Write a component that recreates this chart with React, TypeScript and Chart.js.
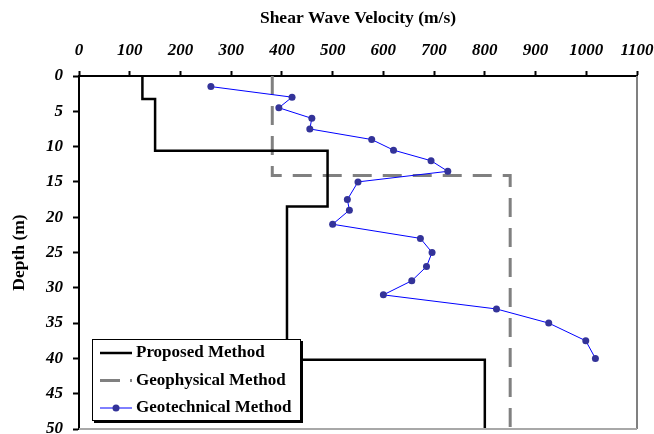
import React, { useEffect, useRef } from "react";
import { Chart, registerables } from "chart.js";

Chart.register(...registerables);

const FONT = "'Liberation Serif', 'Times New Roman', serif";

// Axis settings
const velocityMin = 0;
const velocityMax = 1100;
const velocityStep = 100;
const depthMin = 0;
const depthMax = 50;
const depthStep = 5;

const seriesNames = ["Proposed Method", "Geophysical Method", "Geotechnical Method"];

// Proposed Method (step profile)
const proposedVelocity = [125, 125, 150, 150, 490, 490, 410, 410, 800, 800];
const proposedDepth = [0, 3.25, 3.25, 10.6, 10.6, 18.5, 18.5, 40.2, 40.2, 50];

// Geophysical Method (step profile)
const geophysicalVelocity = [381, 381, 850, 850];
const geophysicalDepth = [0, 14.1, 14.1, 50];

// Geotechnical Method (points)
const geotechnicalVelocity = [
  260, 420, 394, 459, 455, 577, 620, 694, 727, 550, 529, 533, 500, 673, 696, 685, 656, 600, 823, 926, 999, 1018,
];
const geotechnicalDepth = [
  1.5, 3, 4.5, 6, 7.5, 9, 10.5, 12, 13.5, 15, 17.5, 19, 21, 23, 25, 27, 29, 31, 33, 35, 37.5, 40,
];

const toPoints = (xs: number[], ys: number[]) => xs.map((x, i) => ({ x, y: ys[i] }));

const frameAndLegend = {
  id: "frameAndLegend",
  afterDraw(chart: any) {
    const { ctx, chartArea } = chart;
    const { left, right, top, bottom } = chartArea;
    ctx.save();
    // right and bottom frame
    ctx.strokeStyle = "#808080";
    ctx.lineWidth = 2;
    ctx.beginPath();
    ctx.moveTo(right, top);
    ctx.lineTo(right, bottom);
    ctx.stroke();
    ctx.strokeStyle = "#a8a8a8";
    ctx.beginPath();
    ctx.moveTo(left, bottom);
    ctx.lineTo(right, bottom);
    ctx.stroke();

    // legend box
    const bx = 92, by = 339, bw = 209, bh = 82;
    ctx.fillStyle = "#000";
    ctx.fillRect(bx + 2, by + 2, bw, bh);
    ctx.fillStyle = "#fff";
    ctx.fillRect(bx, by, bw, bh);
    ctx.strokeStyle = "#000";
    ctx.lineWidth = 1;
    ctx.strokeRect(bx + 0.5, by + 0.5, bw - 1, bh - 1);

    const rows = [353, 380.5, 408];
    const sx0 = 100, sx1 = 132;
    // proposed sample
    ctx.strokeStyle = "#000";
    ctx.lineWidth = 2.5;
    ctx.beginPath();
    ctx.moveTo(sx0, rows[0]);
    ctx.lineTo(sx1, rows[0]);
    ctx.stroke();
    // geophysical sample
    ctx.strokeStyle = "#808080";
    ctx.lineWidth = 3;
    ctx.setLineDash([20, 10]);
    ctx.beginPath();
    ctx.moveTo(sx0, rows[1]);
    ctx.lineTo(sx1, rows[1]);
    ctx.stroke();
    ctx.setLineDash([]);
    // geotechnical sample
    ctx.strokeStyle = "#0000ff";
    ctx.lineWidth = 1;
    ctx.beginPath();
    ctx.moveTo(sx0, rows[2]);
    ctx.lineTo(sx1, rows[2]);
    ctx.stroke();
    ctx.fillStyle = "#333399";
    ctx.beginPath();
    ctx.arc((sx0 + sx1) / 2, rows[2], 3.5, 0, Math.PI * 2);
    ctx.fill();

    ctx.fillStyle = "#000";
    ctx.font = `bold 17px ${FONT}`;
    ctx.textAlign = "left";
    ctx.textBaseline = "middle";
    seriesNames.forEach((name, i) => {
      ctx.fillText(name, 136, rows[i]);
    });
    ctx.restore();
  },
};

export default function App() {
  const canvasRef = useRef<HTMLCanvasElement | null>(null);

  useEffect(() => {
    if (!canvasRef.current) return;
    Chart.defaults.font.family = FONT;
    const tickFont = { family: FONT, size: 17, weight: "bold" as const, style: "italic" as const };
    const titleFont = { family: FONT, size: 17.5, weight: "bold" as const };

    const chart = new Chart(canvasRef.current, {
      type: "scatter",
      data: {
        datasets: [
          {
            label: seriesNames[0],
            data: toPoints(proposedVelocity, proposedDepth),
            showLine: true,
            borderColor: "#000000",
            borderWidth: 2.5,
            pointRadius: 0,
            fill: false,
            order: 1,
          },
          {
            label: seriesNames[1],
            data: toPoints(geophysicalVelocity, geophysicalDepth),
            showLine: true,
            borderColor: "#808080",
            borderWidth: 3,
            borderDash: [19, 11],
            pointRadius: 0,
            fill: false,
            order: 2,
          },
          {
            label: seriesNames[2],
            data: toPoints(geotechnicalVelocity, geotechnicalDepth),
            showLine: true,
            borderColor: "#0000ff",
            borderWidth: 1,
            pointRadius: 3.5,
            pointBackgroundColor: "#333399",
            pointBorderColor: "#333399",
            pointBorderWidth: 0,
            fill: false,
            order: 0,
          },
        ],
      },
      options: {
        animation: false,
        responsive: false,
        layout: { padding: { top: 0, left: 0, right: 17, bottom: 5 } },
        plugins: {
          legend: { display: false },
          tooltip: { enabled: false },
        },
        scales: {
          x: {
            type: "linear",
            position: "top",
            min: velocityMin,
            max: velocityMax,
            ticks: {
              stepSize: velocityStep,
              font: tickFont,
              color: "#000",
              padding: 10,
              maxRotation: 0,
              autoSkip: false,
              callback: (v: any) => String(v),
            },
            grid: {
              drawOnChartArea: false,
              drawTicks: true,
              tickLength: 5,
              tickColor: "#000",
              tickWidth: 2,
            },
            border: { color: "#000", width: 2 },
            title: {
              display: true,
              text: "Shear Wave Velocity (m/s)",
              font: titleFont,
              color: "#000",
              padding: { top: 8, bottom: 0 },
            },
            afterFit: (s: any) => {
              s.height = 76;
              s.paddingLeft = 0;
              s.paddingRight = 0;
            },
          },
          y: {
            type: "linear",
            reverse: true,
            min: depthMin,
            max: depthMax,
            ticks: {
              stepSize: depthStep,
              font: tickFont,
              color: "#000",
              padding: 10,
              autoSkip: false,
              callback: (v: any) => String(v),
            },
            grid: {
              drawOnChartArea: false,
              drawTicks: true,
              tickLength: 6,
              tickColor: "#000",
              tickWidth: 2,
            },
            border: { color: "#000", width: 2 },
            title: {
              display: true,
              text: "Depth (m)",
              font: titleFont,
              color: "#000",
              padding: { top: 9, bottom: 0 },
            },
            afterFit: (s: any) => {
              s.width = 79;
              s.paddingTop = 0;
              s.paddingBottom = 0;
            },
          },
        },
      },
      plugins: [frameAndLegend],
    });
    return () => chart.destroy();
  }, []);

  return (
    <div style={{ position: "absolute", left: 0, top: 0, width: 654, height: 434, background: "#fff" }}>
      <canvas ref={canvasRef} width={654} height={434} style={{ display: "block" }} />
    </div>
  );
}
